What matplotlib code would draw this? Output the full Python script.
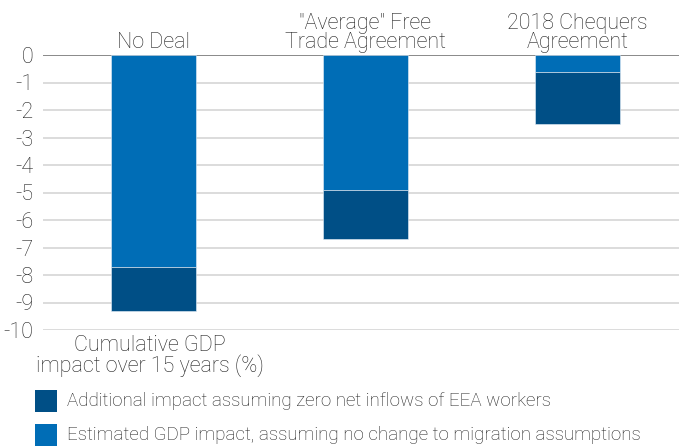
import matplotlib
matplotlib.use("Agg")
import matplotlib.pyplot as plt
from matplotlib.patches import Rectangle

plt.rcParams['font.family'] = ['Roboto', 'DejaVu Sans']

categories = ['No Deal', '"Average" Free\nTrade Agreement', '2018 Chequers\nAgreement']
estimated = [-7.7, -4.9, -0.6]
additional = [-1.6, -1.8, -1.9]
yticks = [0, -1, -2, -3, -4, -5, -6, -7, -8, -9, -10]
series_names = ['Additional impact assuming zero net inflows of EEA workers',
                'Estimated GDP impact, assuming no change to migration assumptions']

light = '#006db6'
dark = '#004f86'
W, H = 679, 446

fig = plt.figure(figsize=(6.79, 4.46), dpi=100)
ax = fig.add_axes([43/W, 1-330/H, 1-43/W, 275/H])

x = list(range(len(categories)))
ax.bar(x, estimated, width=0.4, color=light, edgecolor='#e8f0f8', linewidth=0.4, zorder=3)
ax.bar(x, additional, bottom=estimated, width=0.4, color=dark, edgecolor='#e8f0f8', linewidth=0.4, zorder=3)

ax.set_xlim(-0.52, 2.48)
ax.set_ylim(-10, 0)
ax.set_yticks(yticks)
ax.set_yticklabels([str(t) for t in yticks], fontsize=15.5, fontweight='light', color='#222222')
ax.tick_params(axis='y', length=0, pad=7)
ax.set_xticks([])
for t in yticks:
    ax.axhline(t, color='#808080' if t == 0 else '#d9d9d9', linewidth=1.3, zorder=1)
for s in ax.spines.values():
    s.set_visible(False)

for xi, c in zip(x, categories):
    ax.text(xi, 0.08, c, ha='center', va='bottom', fontsize=15.5, fontweight='light',
            color='#222222', linespacing=0.85)

fig.text(150/W, 1-356/H, 'Cumulative GDP\nimpact over 15 years (%)', ha='center', va='center',
         fontsize=15.5, fontweight='light', color='#222222', linespacing=0.88)

colors = [dark, light]
tops = [390, 424]
for col, top, name in zip(colors, tops, series_names):
    fig.patches.append(Rectangle((35/W, 1-(top+22)/H), 22/W, 22/H, transform=fig.transFigure,
                                 facecolor=col, edgecolor='none'))
    fig.text(67/W, 1-(top+11)/H, name, ha='left', va='center', fontsize=13.5,
             fontweight='light', color='#222222')

fig.savefig('out.png', dpi=100)
